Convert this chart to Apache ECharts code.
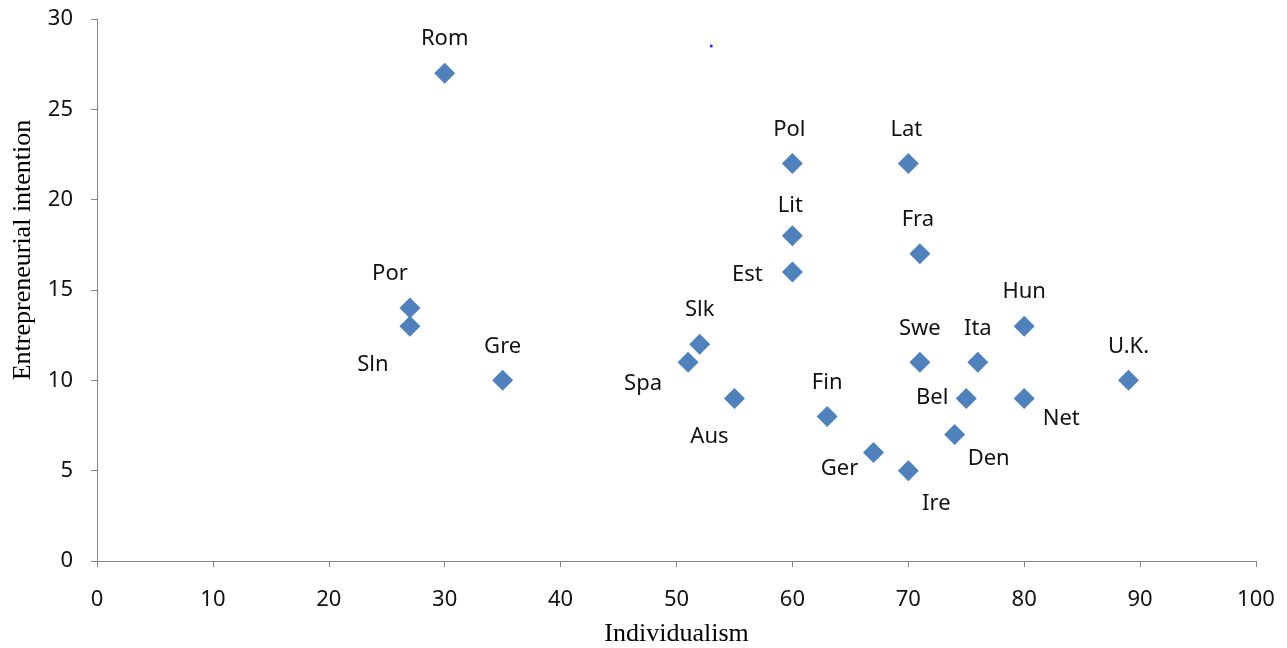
<!DOCTYPE html>
<html>
<head>
<meta charset="utf-8">
<script src="https://cdn.jsdelivr.net/npm/echarts@6/dist/echarts.min.js"></script>
<style>
html, body { margin: 0; padding: 0; background: #fff; }
#chart { width: 1287px; height: 648px; }
</style>
</head>
<body>
<div id="chart"></div>
<script>
var countries = ['Rom', 'Pol', 'Lat', 'Lit', 'Est', 'Fra', 'Por', 'Sln', 'Hun', 'Slk', 'Swe',
                 'Ita', 'Spa', 'Gre', 'U.K.', 'Aus', 'Bel', 'Net', 'Fin', 'Den', 'Ger', 'Ire'];
var individualism = [30, 60, 70, 60, 60, 71, 27, 27, 80, 52, 71, 76, 51, 35, 89, 55, 75, 80, 63, 74, 67, 70];
var intention = [27, 22, 22, 18, 16, 17, 14, 13, 13, 12, 11, 11, 11, 10, 10, 9, 9, 9, 8, 7, 6, 5];
var strayPoint = [53, 28.5];

// where each label sits relative to its marker (pixels)
var labelShift = {
    'Lit': [-2, -30], 'Est': [-45, 3], 'Por': [-20, -34], 'Sln': [-37, 39], 'Spa': [-45, 21],
    'Aus': [-25, 38], 'Bel': [-34, -1], 'Net': [37, 20], 'Den': [34, 24],
    'Ger': [-34, 16], 'Ire': [28, 33], 'Pol': [-3, -34], 'Lat': [-2, -34], 'Fra': [-2, -34]
};

var myChart = echarts.init(document.getElementById('chart'));

var points = countries.map(function (name, i) {
    var shift = labelShift[name] || [0, -34];
    return {
        name: name,
        value: [individualism[i], intention[i]],
        label: { offset: shift }
    };
});

var axisFont = { fontFamily: 'Noto Sans', fontSize: 22, color: '#111' };

option = {
    animation: false,
    grid: { left: 97, right: 31, top: 19, bottom: 87, outerBoundsMode: 'none' },
    xAxis: {
        type: 'value',
        min: 0, max: 100, interval: 10,
        name: 'Individualism',
        nameLocation: 'middle',
        nameGap: 60,
        nameTextStyle: { fontFamily: 'Liberation Serif', fontSize: 26, color: '#000' },
        axisLine: { show: true, lineStyle: { color: '#868686', width: 1 } },
        axisTick: { show: true, inside: false, length: 6, lineStyle: { color: '#868686' } },
        axisLabel: Object.assign({ margin: 28 }, axisFont),
        splitLine: { show: false }
    },
    yAxis: {
        type: 'value',
        min: 0, max: 30, interval: 5,
        name: 'Entrepreneurial intention',
        nameLocation: 'middle',
        nameGap: 61,
        nameTextStyle: { fontFamily: 'Liberation Serif', fontSize: 26, color: '#000', padding: [0, 0, 0, 80] },
        axisLine: { show: true, lineStyle: { color: '#868686', width: 1 } },
        axisTick: { show: true, inside: false, length: 6, lineStyle: { color: '#868686' } },
        axisLabel: Object.assign({ margin: 24 }, axisFont),
        splitLine: { show: false }
    },
    series: [
        {
            type: 'scatter',
            symbol: 'diamond',
            symbolSize: [21, 21],
            itemStyle: { color: '#4F81BD', opacity: 1 },
            label: {
                show: true,
                position: 'inside',
                formatter: '{b}',
                fontFamily: 'Noto Sans',
                fontSize: 22,
                color: '#111'
            },
            data: points
        },
        {
            type: 'scatter',
            symbol: 'circle',
            symbolSize: 3,
            itemStyle: { color: '#2222ff', opacity: 1 },
            data: [strayPoint]
        }
    ]
};

myChart.setOption(option);
window.onresize = function () {
    myChart.resize();
}
</script>
</body>
</html>
